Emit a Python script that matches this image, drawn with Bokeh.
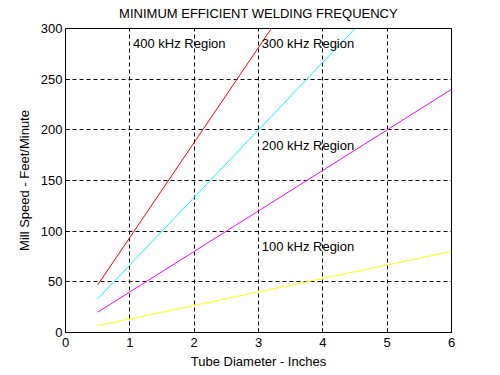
from bokeh.plotting import figure
from bokeh.models import Range1d, FixedTicker, ColumnDataSource
from bokeh.core.properties import value
from bokeh.embed import file_html
from bokeh.resources import INLINE

# Data
red_x = [0.5, 3.2]
red_y = [46.9, 300]
cyan_x = [0.5, 4.5]
cyan_y = [33.3, 300]
magenta_x = [0.5, 6.0]
magenta_y = [20, 240]
yellow_x = [0.5, 6.0]
yellow_y = [6.7, 80]

label_x = [1.05, 3.05, 3.05, 3.05]
label_y = [285, 285, 185, 85]
label_text = ["400 kHz Region", "300 kHz Region", "200 kHz Region", "100 kHz Region"]

x_ticks = [0, 1, 2, 3, 4, 5, 6]
y_ticks = [0, 50, 100, 150, 200, 250, 300]

FONT = "Liberation Sans"
FS = "13px"

p = figure(width=500, height=375, output_backend="svg", toolbar_location=None,
           x_range=Range1d(0, 6), y_range=Range1d(0, 300),
           min_border_left=65, min_border_right=49, min_border_top=28, min_border_bottom=43,
           title="MINIMUM EFFICIENT WELDING FREQUENCY")
p.background_fill_color = "white"
p.border_fill_color = "white"
p.outline_line_color = "black"
p.outline_line_width = 1

p.title.align = "center"
p.title.vertical_align = "top"
p.title.text_font = FONT
p.title.text_font_size = FS
p.title.text_font_style = "normal"
p.title.text_color = "black"
p.title.standoff = 11
p.title.offset = 0

for ax in (p.xaxis[0], p.yaxis[0]):
    ax.axis_line_color = "black"
    ax.major_tick_in = 4
    ax.major_tick_out = 0
    ax.minor_tick_in = 0
    ax.minor_tick_out = 0
    ax.major_tick_line_color = "black"
    ax.major_label_text_font = FONT
    ax.major_label_text_font_size = FS
    ax.major_label_text_color = "black"
    ax.axis_label_text_font = FONT
    ax.axis_label_text_font_size = FS
    ax.axis_label_text_font_style = "normal"
    ax.axis_label_text_color = "black"

p.xaxis.ticker = FixedTicker(ticks=x_ticks)
p.yaxis.ticker = FixedTicker(ticks=y_ticks)
p.xaxis.axis_label = "Tube Diameter - Inches"
p.yaxis.axis_label = "Mill Speed - Feet/Minute"
p.xaxis.major_label_standoff = 5
p.xaxis.axis_label_standoff = 4
p.yaxis.major_label_standoff = 3
p.yaxis.axis_label_standoff = 6

for g in (p.xgrid[0], p.ygrid[0]):
    g.grid_line_color = "black"
    g.grid_line_dash = "4 3"
    g.grid_line_width = 1

p.line(red_x, red_y, line_color="#ff0000", line_width=1)
p.line(cyan_x, cyan_y, line_color="#00ffff", line_width=1)
p.line(magenta_x, magenta_y, line_color="#ff00ff", line_width=1)
p.line(yellow_x, yellow_y, line_color="#ffff00", line_width=1)

src = ColumnDataSource(dict(x=label_x, y=label_y, t=label_text))
p.text(x="x", y="y", text="t", source=src, text_font=value(FONT), text_font_size=value(FS),
       text_color="black", text_align="left", text_baseline="middle")

open("out.html", "w").write(file_html(p, INLINE))
